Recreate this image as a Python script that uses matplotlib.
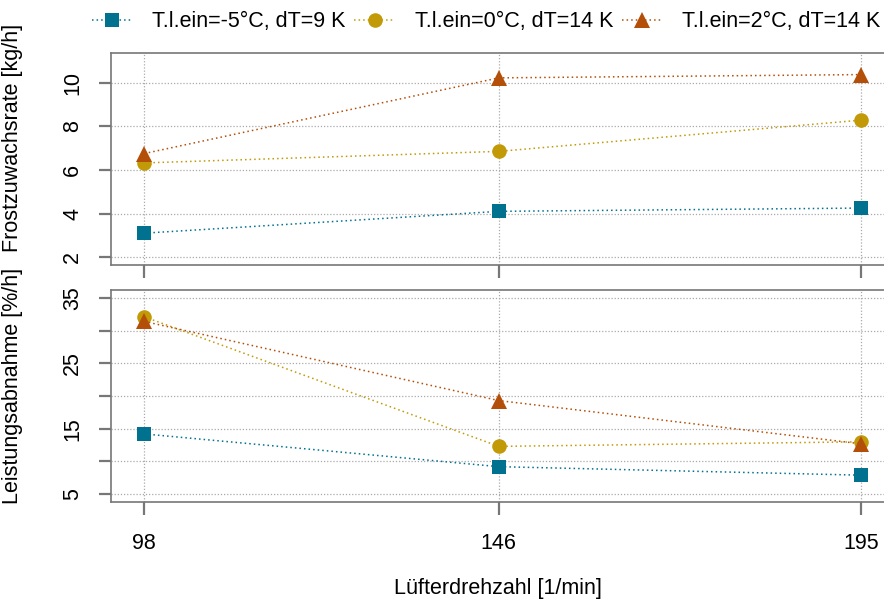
import matplotlib
matplotlib.use('Agg')
import matplotlib.pyplot as plt
from matplotlib.lines import Line2D

plt.rcParams['font.family'] = ['Liberation Sans', 'DejaVu Sans']

# Daten
drehzahl = [98, 146, 195]
serien = ['T.l.ein=-5°C, dT=9 K', 'T.l.ein=0°C, dT=14 K', 'T.l.ein=2°C, dT=14 K']
frost = [
    [3.10, 4.10, 4.25],
    [6.32, 6.85, 8.28],
    [6.75, 10.22, 10.37],
]
leistung = [
    [14.2, 9.2, 7.9],
    [32.1, 12.3, 13.0],
    [31.4, 19.3, 12.7],
]
farben = ['#00718f', '#c29a08', '#b34f09']
marker = ['s', 'o', '^']
msize = [10, 10.5, 11]

W, H = 884, 606
fig = plt.figure(figsize=(W / 100, H / 100), dpi=100)

def px_axes(left, top, right, bottom):
    return fig.add_axes([left / W, 1 - bottom / H, (right - left) / W, (bottom - top) / H])

ax1 = px_axes(111, 53, 894, 265)
ax2 = px_axes(111, 290, 894, 502)

fs = 15.5
grau = '#777777'

def style(ax, yticks, ylabels, ylim):
    ax.set_xlim(93.5, 199.5)
    ax.set_ylim(ylim[0] - 0.04 * (ylim[1] - ylim[0]), ylim[1] + 0.04 * (ylim[1] - ylim[0]))
    ax.set_xticks(drehzahl)
    ax.set_yticks(yticks)
    ax.set_yticklabels(ylabels, rotation=90, va='center')
    ax.grid(True, color='#aaaaaa', linestyle=(0, (1, 1.5)), linewidth=0.9)
    ax.set_axisbelow(True)
    for s in ax.spines.values():
        s.set_color(grau)
        s.set_linewidth(1.2)
    ax.tick_params(axis='both', length=9, width=1.6, color=grau, labelsize=fs)
    ax.tick_params(axis='y', pad=11)
    ax.tick_params(axis='x', pad=13)

style(ax1, [2, 4, 6, 8, 10], ['2', '4', '6', '8', '10'], (2, 11))
style(ax2, [5, 10, 15, 20, 25, 30, 35], ['5', '', '15', '', '25', '', '35'], (5, 35))
ax1.set_xticklabels([])

for ax, daten in [(ax1, frost), (ax2, leistung)]:
    for werte, f, m, ms in zip(daten, farben, marker, msize):
        ax.plot(drehzahl, werte, color=f, linestyle=(0, (1, 2)), linewidth=1.1,
                marker=m, markersize=ms, markeredgewidth=0, clip_on=False)

ax1.set_ylabel('Frostzuwachsrate [kg/h]', fontsize=fs)
ax2.set_ylabel('Leistungsabnahme [%/h]', fontsize=fs)
ax1.yaxis.set_label_coords((23 - 111) / 783, (265 - 138) / 212)
ax2.yaxis.set_label_coords((23 - 111) / 783, (502 - 386) / 212)
ax2.set_xlabel('Lüfterdrehzahl [1/min]', fontsize=fs)
ax2.xaxis.set_label_coords((498 - 111) / 783, -(578 - 502) / 212)

handles = [Line2D([], [], color=f, linestyle=(0, (1, 2)), linewidth=1.1, marker=m,
                  markersize=ms, markeredgewidth=0) for f, m, ms in zip(farben, marker, msize)]
fig.legend(handles, serien, ncol=3, loc='center', bbox_to_anchor=(486 / W, 1 - 22 / H),
           frameon=False, fontsize=fs, handlelength=1.9, handletextpad=0.9,
           columnspacing=0.4)

fig.savefig('out.png', dpi=100)
